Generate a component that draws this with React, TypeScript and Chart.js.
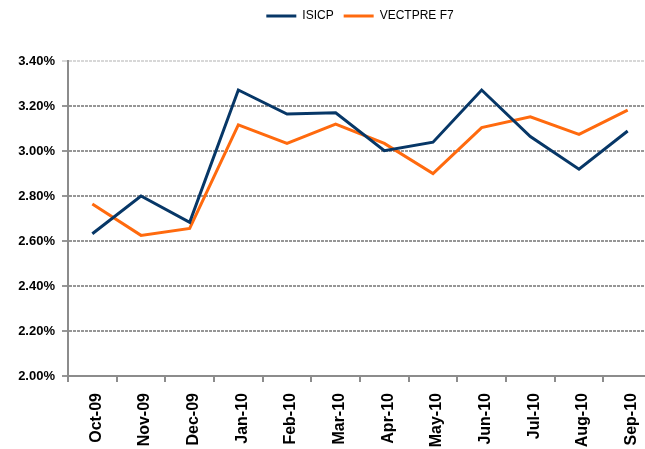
import React, { useEffect, useRef } from "react";
import { Chart, registerables } from "chart.js";

Chart.register(...registerables);

const categories = ["Oct-09", "Nov-09", "Dec-09", "Jan-10", "Feb-10", "Mar-10", "Apr-10", "May-10", "Jun-10", "Jul-10", "Aug-10", "Sep-10"];
const isicp = [2.632, 2.80, 2.683, 3.271, 3.164, 3.170, 3.001, 3.039, 3.271, 3.064, 2.919, 3.089];
const vectpre = [2.764, 2.625, 2.656, 3.116, 3.034, 3.119, 3.034, 2.90, 3.104, 3.152, 3.074, 3.182];
const yMin = 2.0;
const yMax = 3.4;
const yStep = 0.2;

const FONT = "'Liberation Sans', Arial, sans-serif";

export default function App() {
  const ref = useRef<HTMLCanvasElement | null>(null);

  useEffect(() => {
    if (!ref.current) return;
    const legendSpacer = {
      id: "legendSpacer",
      beforeInit(chart: any) {
        const orig = chart.legend.fit;
        chart.legend.fit = function () {
          orig.bind(chart.legend)();
          this.height += 29;
        };
      },
    };
    const chart = new Chart(ref.current, {
      type: "line",
      data: {
        labels: categories,
        datasets: [
          {
            label: "ISICP",
            data: isicp,
            borderColor: "#073767",
            backgroundColor: "#073767",
            borderWidth: 3,
            pointRadius: 0,
            tension: 0,
          },
          {
            label: "VECTPRE F7",
            data: vectpre,
            borderColor: "#FF6A0E",
            backgroundColor: "#FF6A0E",
            borderWidth: 3,
            pointRadius: 0,
            tension: 0,
          },
        ],
      },
      options: {
        animation: false,
        responsive: false,
        maintainAspectRatio: false,
        layout: { padding: { left: 0, right: 8, top: 0, bottom: 0 } },
        plugins: {
          tooltip: { enabled: false },
          legend: {
            display: true,
            position: "top",
            fullSize: false,
            labels: {
              boxWidth: 30,
              boxHeight: 3,
              padding: 10,
              color: "#000",
              font: { family: FONT, size: 12 },
              generateLabels(chart: any) {
                const items = Chart.defaults.plugins.legend.labels.generateLabels(chart);
                return items.map((it: any) => ({ ...it, lineWidth: 0 }));
              },
            },
          },
        },
        scales: {
          x: {
            type: "category",
            offset: true,
            afterFit(scale: any) {
              scale.height = 73;
            },
            grid: {
              offset: true,
              drawOnChartArea: false,
              drawTicks: true,
              tickLength: 6,
              color: "#8c8c8c",
              lineWidth: 2,
            },
            border: { display: true, color: "#8c8c8c", width: 2 },
            ticks: {
              minRotation: 90,
              maxRotation: 90,
              autoSkip: false,
              padding: 11,
              labelOffset: 4,
              color: "#000",
              font: { family: FONT, size: 16, weight: "bold" },
            },
          },
          y: {
            min: yMin,
            max: yMax,
            afterFit(scale: any) {
              scale.width = 68;
            },
            grid: {
              drawTicks: true,
              tickLength: 6,
              lineWidth: 2,
              color: (ctx: any) => (ctx.tick && Math.abs(ctx.tick.value - yMax) < 1e-6 ? "#d8d8d8" : "#969696"),
            },
            border: { display: true, color: "#8c8c8c", width: 2, dash: [3, 1] },
            ticks: {
              stepSize: yStep,
              padding: 7,
              color: "#000",
              font: { family: FONT, size: 13, weight: "bold" },
              callback: (v: any) => Number(v).toFixed(2) + "%",
            },
          },
        },
      },
      plugins: [legendSpacer],
    });
    return () => chart.destroy();
  }, []);

  return (
    <div style={{ position: "fixed", left: 0, top: 0, width: 645, height: 449, overflow: "hidden", background: "#fff" }}>
      <canvas ref={ref} width={660} height={449} style={{ width: 660, height: 449, display: "block" }} />
    </div>
  );
}
